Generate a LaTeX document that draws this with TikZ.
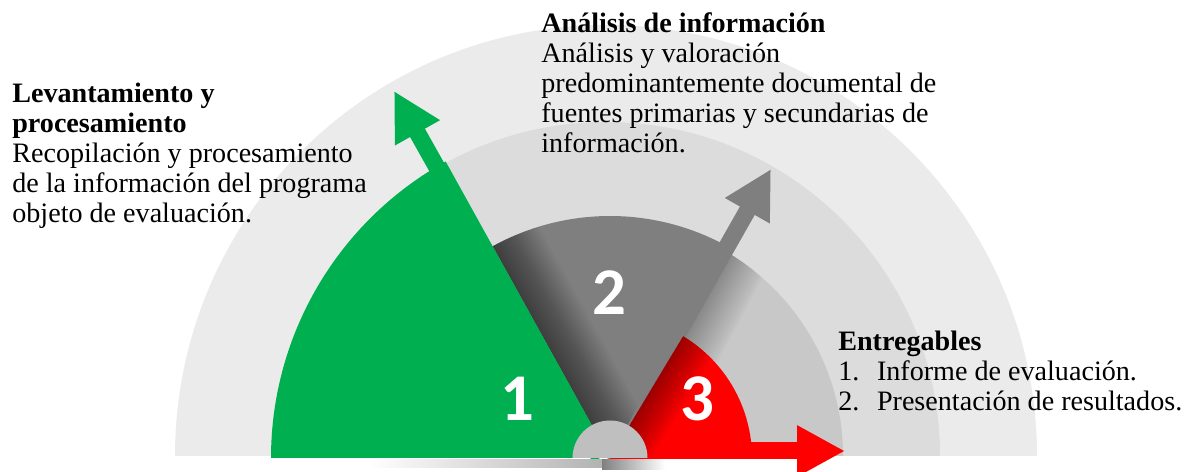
\documentclass[tikz,border=0pt]{standalone}
\usepackage{fontspec}
\setmainfont{Liberation Serif}
\newfontfamily\digitfont{Carlito}
\usepackage{tikz}
\usetikzlibrary{arrows.meta, calc}
\definecolor{ringA}{HTML}{EBEBEB}
\definecolor{ringB}{HTML}{DCDCDC}
\definecolor{ringC}{HTML}{C8C8C8}
\definecolor{stepgray}{HTML}{7F7F7F}
\definecolor{stepgreen}{HTML}{00B050}
\definecolor{stepred}{HTML}{FF0000}
\definecolor{hub}{HTML}{BFBFBF}
\tikzstyle{pointer} = [line width=0.34cm, -{Triangle[width=0.96cm, length=0.96cm]}]
\tikzstyle{stage} = [text=white, font=\digitfont\bfseries\fontsize{38}{38}\selectfont]
\tikzstyle{info} = [align=left, anchor=base west, inner sep=0pt, font=\fontsize{16}{17.1}\selectfont]
\tikzstyle{shadow} = [black, opacity=0.025]

\begin{document}
\begin{tikzpicture}[x=0.02cm, y=0.02cm]
\useasboundingbox (0,0) rectangle (1199,472);
\coordinate (o) at (606,16);
\coordinate (c) at (610,14);

% background rings
\fill[ringA] ($(o)+(180:431)$) arc[start angle=180, end angle=0, radius=431] -- cycle;
\fill[ringB] ($(o)+(180:334)$) arc[start angle=180, end angle=0, radius=334] -- cycle;
\fill[ringC] ($(o)+(180:237)$) arc[start angle=180, end angle=0, radius=237] -- cycle;
\begin{scope}
\clip ($(o)+(180:237)$) arc[start angle=180, end angle=0, radius=237] -- cycle;
\foreach \d in {2,4,...,50}
  \fill[black, opacity=0.015] (c) -- ++(62:300) -- ++(-28:\d) -- ($(c)+(-28:\d)$) -- cycle;
\end{scope}

% pointers
\coordinate (g0) at (600,14);
\coordinate (gtip) at (394,381);
\coordinate (a0) at (607,14);
\coordinate (atip) at (771,303);
\coordinate (r0) at (610,21);
\coordinate (rtip) at (845,21);
\draw[pointer, stepgreen] (g0) -- (gtip);
\draw[pointer, stepgray] (a0) -- (atip);
\draw[pointer, stepred] (r0) -- (rtip);

% step 2
\fill[stepgray] (c) -- ++(62:242) arc[start angle=62, end angle=119, radius=242] -- cycle;
\begin{scope}
\clip (c) -- ++(62:242) arc[start angle=62, end angle=119, radius=242] -- cycle;
\foreach \d in {2,4,...,50}
  \fill[shadow] (c) -- ++(119:300) -- ++(29:\d) -- ($(c)+(29:\d)$) -- cycle;
\end{scope}

% step 1
\fill[stepgreen] (c) -- ++(119:339) arc[start angle=119, end angle=180, radius=339] -- cycle;

% step 3
\fill[stepred] (c) -- ++(0:142) arc[start angle=0, end angle=59, radius=142] -- cycle;
\begin{scope}
\clip (c) -- ++(0:142) arc[start angle=0, end angle=59, radius=142] -- cycle;
\foreach \d in {2,4,...,36}
  \fill[black, opacity=0.025] (c) -- ++(59:200) -- ++(-31:\d) -- ($(c)+(-31:\d)$) -- cycle;
\end{scope}

% hub and floor shadow
\fill[hub] ($(c)+(37.5,0)$) arc[start angle=0, end angle=180, radius=37.5] -- cycle;
\shade[left color=white, right color=black!30] (370,4) rectangle (602,12);
\shade[left color=black!50, right color=white] (602,2) rectangle (665,12);

\node (n1) [stage] at (517,73) {1};
\node (n2) [stage] at (609,179) {2};
\node (n3) [stage] at (697,73) {3};

\node (lev) [info] at (12,249) {\textbf{Levantamiento y}\\\textbf{procesamiento}\\Recopilación y procesamiento\\de la información del programa\\objeto de evaluación.};
\node (ana) [info] at (541,319) {\textbf{Análisis de información}\\Análisis y valoración\\predominantemente documental de\\fuentes primarias y secundarias de\\información.};
\node (ent) [info] at (838,61) {\textbf{Entregables}\\\makebox[22pt][l]{1.}Informe de evaluación.\\\makebox[22pt][l]{2.}Presentación de resultados.};
\end{tikzpicture}
\end{document}
